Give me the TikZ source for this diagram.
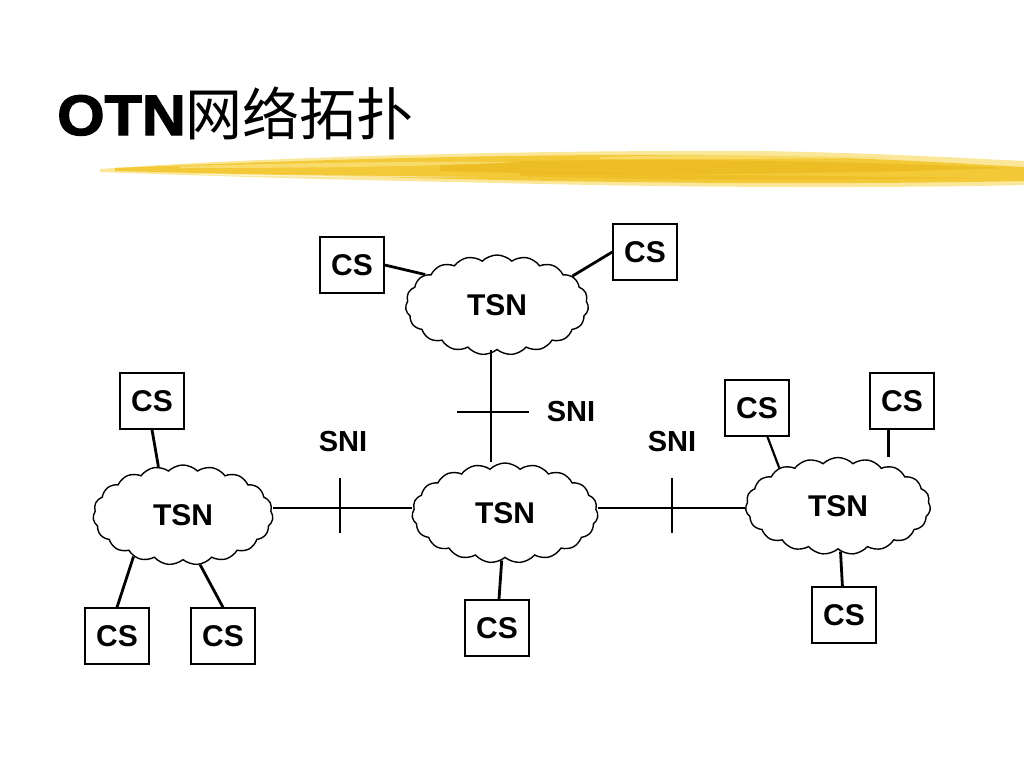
\documentclass[tikz,border=0pt]{standalone}
\usepackage{fontspec}
\setmainfont{Liberation Sans}
\newfontfamily\blackfont[BoldFont={Liberation Sans Bold},BoldFeatures={FakeBold=2.2,FakeStretch=1.07}]{Liberation Sans}
\newfontfamily\cjk{Noto Sans CJK SC}
\usetikzlibrary{shapes.symbols}
\definecolor{brushA}{RGB}{242,196,40}
\definecolor{brushB}{RGB}{250,224,120}
\definecolor{brushC}{RGB}{232,180,20}
\begin{document}
\begin{tikzpicture}[x=1pt,y=-1pt,
  csbox/.style={draw,line width=1.4pt,minimum width=64pt,minimum height=56pt,inner sep=0pt,
    font=\bfseries\fontsize{30}{30}\selectfont},
  tsn/.style={cloud,draw,line width=1.4pt,cloud puffs=19,cloud puff arc=90,aspect=1.85,
    inner sep=0pt,minimum width=#1,minimum height=100pt,
    font=\bfseries\fontsize{30}{30}\selectfont},
  link/.style={line width=2.8pt},
  sniline/.style={line width=1.4pt},
  lbl/.style={font=\bfseries\fontsize{29}{29}\selectfont,inner sep=0pt}]
\useasboundingbox (0,0) rectangle (1024,768);
\fill[white] (0,0) rectangle (1024,768);
% title
\node[anchor=base west,inner sep=0pt] (title) at (57,135)
  {\blackfont\bfseries\fontsize{57}{57}\selectfont OTN\cjk\mdseries\fontsize{57}{57}\selectfont 网络拓扑};
% brush stroke
\fill[brushB,opacity=0.75] (100,169) .. controls (250,158) and (500,150) .. (760,151)
  .. controls (880,153) and (960,158) .. (1024,161) -- (1024,185)
  .. controls (900,188) and (700,188) .. (500,183) .. controls (300,179) and (180,175) .. (100,172) -- cycle;
\fill[brushA,opacity=0.85] (115,168) .. controls (300,160) and (500,154) .. (700,155)
  .. controls (850,156) and (950,163) .. (1024,167) -- (1024,181)
  .. controls (880,184) and (700,184) .. (500,180) .. controls (320,176) and (200,173) .. (115,171) -- cycle;
\fill[brushC,opacity=0.55] (440,163) .. controls (600,158) and (800,159) .. (1010,168)
  .. controls (800,175) and (600,176) .. (440,171) -- cycle;
\fill[brushC,opacity=0.45] (520,172) .. controls (650,174) and (800,176) .. (980,178)
  .. controls (800,181) and (650,180) .. (520,176) -- cycle;
\fill[brushB,opacity=0.8] (180,166) .. controls (300,163) and (420,161) .. (520,162)
  .. controls (420,167) and (300,168) .. (180,168) -- cycle;
\fill[brushB,opacity=0.7] (600,157) .. controls (700,154) and (800,155) .. (900,158)
  .. controls (800,159) and (700,159) .. (600,159) -- cycle;
\fill[white,opacity=0.5] (200,174) .. controls (300,175) and (400,176) .. (480,177)
  .. controls (400,178) and (300,177) .. (200,175) -- cycle;
% clouds
\node[tsn=183pt] (top) at (497,305) {TSN};
\node[tsn=180pt] (lc) at (183,515) {TSN};
\node[tsn=186pt] (cc) at (505,513) {TSN};
\node[tsn=185pt,minimum height=97pt] (rc) at (838,506) {TSN};
% CS boxes
\node[csbox] (t1) at (352,265) {CS};
\node[csbox] (t2) at (645,252) {CS};
\node[csbox] (l1) at (152,401) {CS};
\node[csbox] (l2) at (117,636) {CS};
\node[csbox] (l3) at (223,636) {CS};
\node[csbox] (c1) at (497,628) {CS};
\node[csbox] (r1) at (757,408) {CS};
\node[csbox] (r2) at (902,401) {CS};
\node[csbox] (r3) at (844,615) {CS};
% SNI labels
\node[lbl] (s1) at (571,412) {SNI};
\node[lbl] (s2) at (343,442) {SNI};
\node[lbl] (s3) at (672,442) {SNI};
% CS links
\draw[link] (t1.east) -- (top.157);
\draw[link] (t2.west) -- (top.21);
\draw[link] (l1.south) -- (lc.117);
\draw[link] (l2.north) -- (lc.220);
\draw[link] (l3.north) -- (lc.289);
\draw[link] (c1) -- (cc);
\draw[line width=2.2pt] (r1.-70) -- (rc.147);
\draw[link] (r2.-115) -- (r2.-115 |- rc.north);
\draw[link] (r3) -- (rc);
% SNI links
\coordinate (vx) at (491,412);
\coordinate (k1) at (340,508);
\coordinate (k2) at (672,508);
\draw[sniline] (top.south -| vx) -- (cc.north -| vx);
\draw[sniline] (vx) ++(-34,0) -- ++(72,0);
\draw[sniline] (lc.east |- k1) -- (cc.west |- k1);
\draw[sniline] (cc.east |- k2) -- (rc.west |- k2);
\draw[sniline] (k1) ++(0,-30) -- ++(0,55);
\draw[sniline] (k2) ++(0,-30) -- ++(0,55);
\end{tikzpicture}
\end{document}
